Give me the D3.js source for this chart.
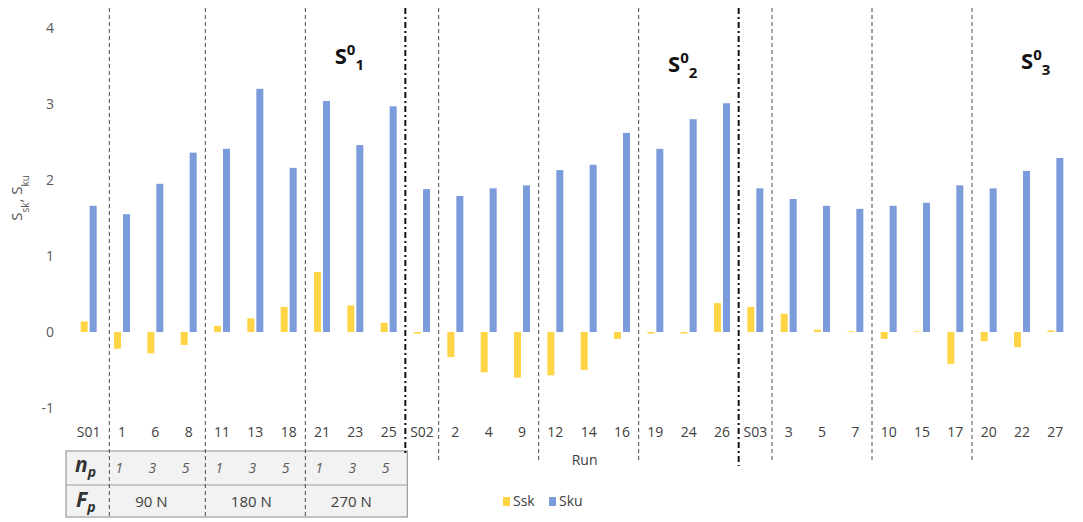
<!DOCTYPE html>
<html>
<head>
<meta charset="utf-8">
<script src="https://cdn.jsdelivr.net/npm/d3@7"></script>
<style>
  body { margin: 0; background: #fff; }
  svg text { font-family: "Open Sans", "Noto Sans", sans-serif; }
</style>
</head>
<body>
<div id="chart"></div>
<script>
// data
var runs = ["S01","1","6","8","11","13","18","21","23","25",
            "S02","2","4","9","12","14","16","19","24","26",
            "S03","3","5","7","10","15","17","20","22","27"];
var ssk = [0.14,-0.22,-0.28,-0.17,0.08,0.18,0.33,0.79,0.35,0.12,
           -0.02,-0.33,-0.53,-0.60,-0.57,-0.50,-0.09,-0.02,-0.02,0.38,
           0.33,0.24,0.03,0.01,-0.09,0.01,-0.42,-0.12,-0.20,0.02];
var sku = [1.66,1.55,1.95,2.36,2.41,3.20,2.16,3.04,2.46,2.97,
           1.88,1.79,1.89,1.93,2.13,2.20,2.62,2.41,2.80,3.01,
           1.89,1.75,1.66,1.62,1.66,1.70,1.93,1.89,2.12,2.29];
var yTicks = [-1,0,1,2,3,4];
var dashedBefore = ["1","11","21","2","12","19","3","10","20"];
var dashDotBefore = ["S02","S03"];
var npRuns = ["1","6","8","11","13","18","21","23","25"];
var npVals = ["1","3","5","1","3","5","1","3","5"];
var fpGroups = [["1","8"],["11","18"],["21","25"]];
var fpVals = ["90 N","180 N","270 N"];
var seriesNames = ["Ssk","Sku"];

var width = 1083, height = 522;
var cYellow = "#FFD445", cBlue = "#7B9BDB";

var svg = d3.select("#chart").append("svg")
  .attr("width", width).attr("height", height);

var x = d3.scaleBand().domain(runs).range([72, 1072]).padding(0);
var y = d3.scaleLinear().domain([-1, 4]).range([408, 28]);
var bw = 7;

// y axis
var yAxis = svg.append("g")
  .attr("transform", "translate(54,0)")
  .call(d3.axisLeft(y).tickValues(yTicks).tickSize(0).tickPadding(0)
    .tickFormat(function(d) { return String(d); }));
yAxis.select(".domain").remove();
yAxis.selectAll("text").attr("font-size", 14).attr("fill", "#595959");

// y title
svg.append("text")
  .attr("transform", "translate(22,198) rotate(-90)")
  .attr("text-anchor", "middle")
  .attr("font-size", 15).attr("fill", "#595959")
  .html('S<tspan baseline-shift="sub" font-size="10">sk</tspan>, S<tspan baseline-shift="sub" font-size="10">ku</tspan>');

// x axis labels
var xAxis = svg.append("g")
  .attr("transform", "translate(0,421)")
  .call(d3.axisBottom(x).tickSize(0).tickPadding(6));
xAxis.select(".domain").remove();
xAxis.selectAll("text").attr("font-size", 14).attr("fill", "#404040");

svg.append("text")
  .attr("x", x("14") + x.bandwidth() / 2 - 17).attr("y", 465)
  .attr("font-size", 14).attr("fill", "#404040")
  .text("Run");

// table under first block
var tLeft = x("S01") - 6, tRight = x("S02") + 2;
svg.append("rect")
  .attr("x", tLeft).attr("y", 451).attr("width", tRight - tLeft).attr("height", 66)
  .attr("fill", "#f2f2f2").attr("stroke", "#9a9a9a").attr("stroke-width", 1.2);
svg.append("line")
  .attr("x1", tLeft).attr("x2", tRight).attr("y1", 485).attr("y2", 485)
  .attr("stroke", "#9a9a9a").attr("stroke-width", 1.2);

svg.append("text")
  .attr("x", tLeft + 9).attr("y", 472)
  .attr("font-size", 21).attr("font-weight", "bold").attr("font-style", "italic").attr("fill", "#333")
  .html('n<tspan dy="5" font-size="14">p</tspan>');
svg.append("text")
  .attr("x", tLeft + 10).attr("y", 507)
  .attr("font-size", 21).attr("font-weight", "bold").attr("font-style", "italic").attr("fill", "#333")
  .html('F<tspan dy="5" font-size="14">p</tspan>');

svg.selectAll(".np")
  .data(npRuns)
  .enter().append("text")
  .attr("class", "np")
  .attr("x", function(d) { return x(d) + x.bandwidth() / 2 - 3; })
  .attr("y", 473)
  .attr("text-anchor", "middle")
  .attr("font-size", 14).attr("font-style", "italic").attr("fill", "#595959")
  .text(function(d, i) { return npVals[i]; });

svg.selectAll(".fp")
  .data(fpGroups)
  .enter().append("text")
  .attr("class", "fp")
  .attr("x", function(d) { return (x(d[0]) + x(d[1]) + x.bandwidth()) / 2 - 4; })
  .attr("y", 507)
  .attr("text-anchor", "middle")
  .attr("font-size", 15).attr("fill", "#404040")
  .text(function(d, i) { return fpVals[i]; });

// separators
svg.selectAll(".sep")
  .data(dashedBefore)
  .enter().append("line")
  .attr("class", "sep")
  .attr("x1", function(d) { return x(d) + (d === "1" ? 4 : 0); })
  .attr("x2", function(d) { return x(d) + (d === "1" ? 4 : 0); })
  .attr("y1", 8)
  .attr("y2", function(d) { return ["1","11","21"].indexOf(d) >= 0 ? 519 : 463; })
  .attr("stroke", "#4a4a4a").attr("stroke-width", 1)
  .attr("stroke-dasharray", "4,3");

svg.selectAll(".sep2")
  .data(dashDotBefore)
  .enter().append("line")
  .attr("class", "sep2")
  .attr("x1", function(d) { return x(d); })
  .attr("x2", function(d) { return x(d); })
  .attr("y1", 8)
  .attr("y2", function(d) { return d === "S02" ? 455 : 466; })
  .attr("stroke", "#111").attr("stroke-width", 2)
  .attr("stroke-dasharray", "6,3,2,3");

// bars
svg.selectAll(".bsk")
  .data(runs)
  .enter().append("rect")
  .attr("class", "bsk")
  .attr("x", function(d) { return x(d) + x.bandwidth() / 2 - 8; })
  .attr("y", function(d, i) { return y(Math.max(0, ssk[i])); })
  .attr("width", bw)
  .attr("height", function(d, i) { return Math.abs(y(ssk[i]) - y(0)); })
  .attr("fill", cYellow);

svg.selectAll(".bku")
  .data(runs)
  .enter().append("rect")
  .attr("class", "bku")
  .attr("x", function(d) { return x(d) + x.bandwidth() / 2 + 1; })
  .attr("y", function(d, i) { return y(Math.max(0, sku[i])); })
  .attr("width", bw)
  .attr("height", function(d, i) { return Math.abs(y(sku[i]) - y(0)); })
  .attr("fill", cBlue);

// block titles
var titles = [
  {cx: x("23") + x.bandwidth() / 2 - 6, y: 64, sub: "1"},
  {cx: x("24") + x.bandwidth() / 2 - 6, y: 72, sub: "2"},
  {cx: x("27") - 3, y: 69, sub: "3"}
];
titles.forEach(function(t) {
  svg.append("text")
    .attr("x", t.cx).attr("y", t.y)
    .attr("text-anchor", "middle")
    .attr("font-size", 22).attr("font-weight", "bold").attr("fill", "#111")
    .html('S<tspan dy="-9" font-size="15">0</tspan><tspan dy="15" font-size="15">' + t.sub + '</tspan>');
});

// legend
var legend = svg.append("g").attr("transform", "translate(503,497)");
var li = legend.selectAll("g")
  .data(seriesNames)
  .enter().append("g")
  .attr("transform", function(d, i) { return "translate(" + (i * 46) + ",0)"; });
li.append("rect")
  .attr("width", 7).attr("height", 9)
  .attr("fill", function(d, i) { return i === 0 ? cYellow : cBlue; });
li.append("text")
  .attr("x", 10).attr("y", 9)
  .attr("font-size", 14).attr("fill", "#404040")
  .text(function(d) { return d; });
</script>
</body>
</html>
